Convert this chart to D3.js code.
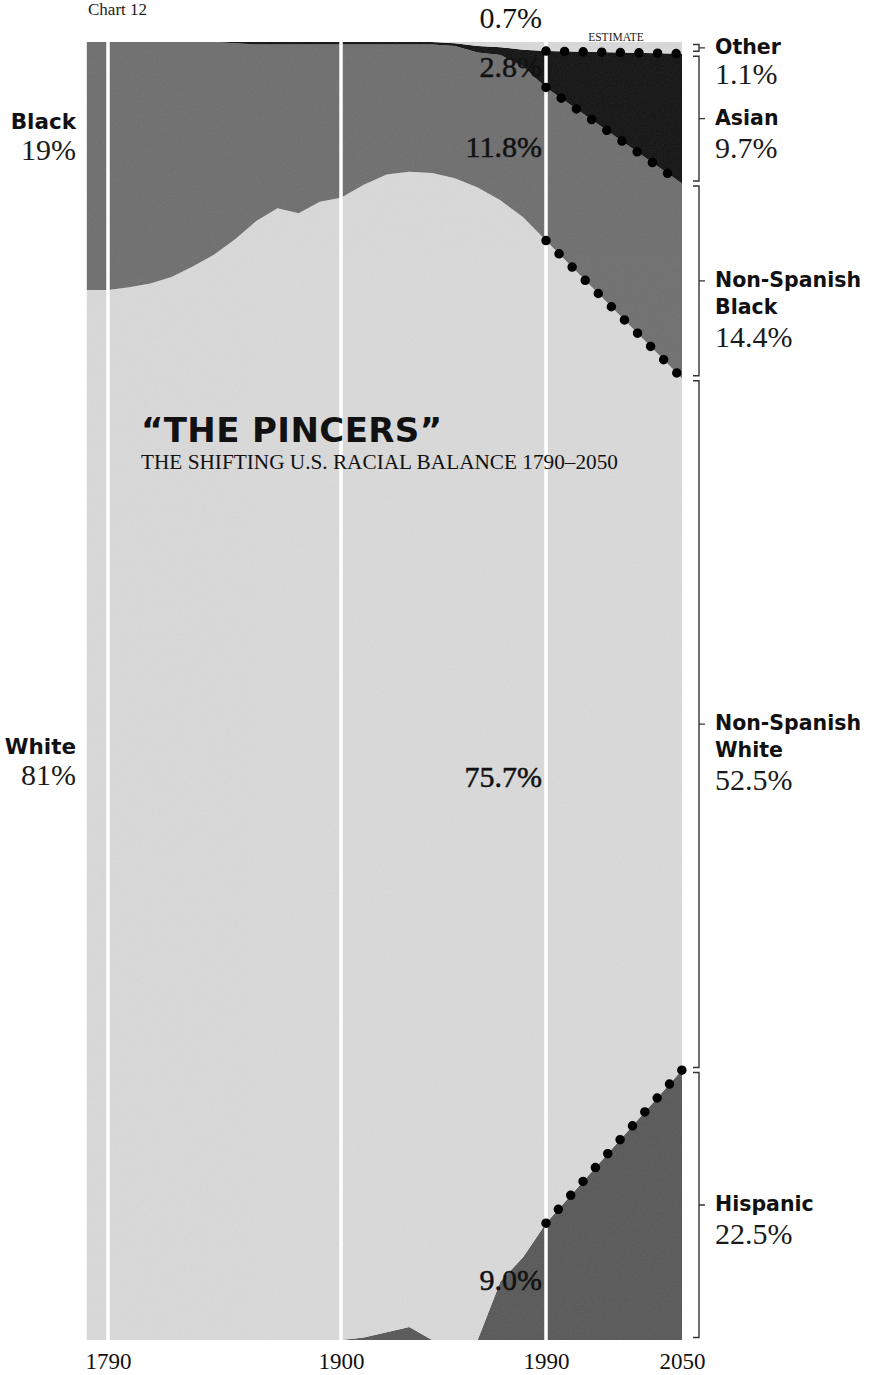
<!DOCTYPE html>
<html>
<head>
<meta charset="utf-8">
<script src="https://cdn.jsdelivr.net/npm/d3@7"></script>
<style>
  body { margin: 0; background: #fff; }
  svg { display: block; }
</style>
</head>
<body>
<div id="vis"></div>
<script>
// census years, then the 2050 projection (percent of population)
const years    = [1780, 1790, 1800, 1810, 1820, 1830, 1840, 1850, 1860, 1870, 1880, 1890, 1900, 1910, 1920, 1930, 1940, 1950, 1960, 1970, 1980, 1990, 2050]
const hispanic = [0, 0, 0, 0, 0, 0, 0, 0, 0, 0, 0, 0, 0, 0.2, 0.6, 1.0, 0, 0, 0, 4.5, 6.4, 9.0, 20.8]
const white    = [80.9, 80.9, 81.1, 81.4, 81.9, 82.7, 83.6, 84.8, 86.2, 87.2, 86.8, 87.7, 88.0, 88.8, 89.2, 89.0, 89.9, 89.5, 88.8, 83.3, 80.1, 75.7, 53.3]
const black    = [19.1, 19.1, 18.9, 18.6, 18.1, 17.3, 16.4, 15.1, 13.6, 12.6, 13.0, 12.1, 11.8, 10.8, 10.0, 9.8, 9.9, 10.2, 10.4, 11.2, 11.6, 11.8, 15.0]
const asian    = [0, 0, 0, 0, 0, 0, 0, 0.1, 0.2, 0.2, 0.2, 0.2, 0.2, 0.2, 0.2, 0.2, 0.2, 0.2, 0.5, 0.6, 1.3, 2.8, 10.0]
const other    = [0, 0, 0, 0, 0, 0, 0, 0, 0, 0, 0, 0, 0, 0, 0, 0, 0, 0.1, 0.3, 0.4, 0.6, 0.7, 0.9]

const tickYears = [1790, 1900, 1990, 2050]
const gridYears = [1790, 1900, 1990]
const estimateFrom = 1990

// labels
const leftLabels = [
    {name: ["Black"], pct: "19%", y: 129},
    {name: ["White"], pct: "81%", y: 754}
]
const rightLabels = {
    other: {name: ["Other"], pct: "1.1%"},
    asian: {name: ["Asian"], pct: "9.7%"},
    black: {name: ["Non-Spanish", "Black"], pct: "14.4%"},
    white: {name: ["Non-Spanish", "White"], pct: "52.5%"},
    hispanic: {name: ["Hispanic"], pct: "22.5%"}
}
const pct1990 = {other: "0.7%", asian: "2.8%", black: "11.8%", white: "75.7%", hispanic: "9.0%"}

const keys = ["hispanic", "white", "black", "asian", "other"]
const colors = {hispanic: "#575757", white: "#dadada", black: "#6e6e6e", asian: "#111", other: "#dadada"}

const table = years.map((yr, i) => ({
    year: yr, hispanic: hispanic[i], white: white[i], black: black[i], asian: asian[i], other: other[i]
}))

const W = 869, H = 1375
const plotTop = 42, plotBottom = 1340

const svg = d3.select("#vis").append("svg")
    .attr("width", W)
    .attr("height", H)

// the printed x axis is not quite linear, so use the tick positions as stops
const x = d3.scaleLinear()
    .domain([1790, 1900, 1990, 2050])
    .range([108, 341, 546, 682])

const y = d3.scaleLinear()
    .domain([0, 100])
    .range([plotBottom, plotTop])

const series = d3.stack().keys(keys)(table)

const area = d3.area()
    .x(d => x(d.data.year))
    .y0(d => y(d[0]))
    .y1(d => y(d[1]))

const defs = svg.append("defs")
const grain = defs.append("filter").attr("id", "grain")
    .attr("x", 0).attr("y", 0).attr("width", "100%").attr("height", "100%")
grain.append("feTurbulence")
    .attr("type", "fractalNoise")
    .attr("baseFrequency", 0.9)
    .attr("numOctaves", 2)
    .attr("seed", 4)
grain.append("feColorMatrix").attr("type", "saturate").attr("values", 0)

defs.append("clipPath").attr("id", "plotClip")
    .append("rect")
    .attr("x", x(years[0])).attr("y", plotTop)
    .attr("width", x(2050) - x(years[0])).attr("height", plotBottom - plotTop)

//stacked layers
svg.append("g")
    .selectAll("path")
    .data(series)
    .join("path")
    .attr("fill", d => colors[d.key])
    .attr("d", area)

// a bit of newsprint grain
svg.append("rect")
    .attr("clip-path", "url(#plotClip)")
    .attr("x", x(years[0])).attr("y", plotTop)
    .attr("width", x(2050) - x(years[0])).attr("height", plotBottom - plotTop)
    .attr("filter", "url(#grain)")
    .attr("opacity", 0.12)

//white year rules
svg.append("g")
    .selectAll("line")
    .data(gridYears)
    .join("line")
    .attr("x1", d => x(d)).attr("x2", d => x(d))
    .attr("y1", plotTop).attr("y2", plotBottom)
    .attr("stroke", "#fff")
    .attr("stroke-width", 3.5)

//dotted estimate boundaries
const proj = series.filter(s => s.key !== "other")
svg.append("g")
    .selectAll("path")
    .data(proj)
    .join("path")
    .attr("fill", "none")
    .attr("stroke", "#000")
    .attr("stroke-width", 9.5)
    .attr("stroke-linecap", "round")
    .attr("stroke-dasharray", "0 18.6")
    .attr("d", s => d3.line()
        .x(d => x(d.data.year))
        .y(d => y(d[1]))(s.filter(d => d.data.year >= estimateFrom)))

//brackets on the right, one per 2050 layer
const bx = 699
const last = series.map(s => ({key: s.key, y0: y(s[s.length - 1][0]), y1: y(s[s.length - 1][1])}))
const brackets = svg.append("g").attr("stroke", "#333").attr("stroke-width", 1.4).attr("fill", "none")
last.forEach(b => {
    const t = b.y1 + 2.5, btm = b.y0 - 2.5, mid = (b.y0 + b.y1) / 2
    brackets.append("path").attr("d", `M${bx - 6},${t}H${bx}V${btm}H${bx - 6}M${bx},${mid}H${bx + 6}`)

    const lab = rightLabels[b.key]
    const g = svg.append("g").attr("transform", `translate(715,${mid + 6})`)
    lab.name.forEach((line, i) => {
        g.append("text")
            .attr("y", i * 27)
            .attr("font-family", "DejaVu Sans")
            .attr("font-weight", "bold")
            .attr("font-size", 20.5)
            .attr("fill", "#111")
            .text(line)
    })
    g.append("text")
        .attr("y", (lab.name.length - 1) * 27 + (b.key === "other" ? 30 : 33))
        .attr("font-family", "Liberation Serif")
        .attr("font-size", 30)
        .attr("fill", "#1a1a1a")
        .text(lab.pct)
})

//left labels
leftLabels.forEach(l => {
    svg.append("text")
        .attr("x", 76).attr("y", l.y)
        .attr("text-anchor", "end")
        .attr("font-family", "DejaVu Sans")
        .attr("font-weight", "bold")
        .attr("font-size", 21.5)
        .attr("fill", "#111")
        .text(l.name[0])
    svg.append("text")
        .attr("x", 76).attr("y", l.y + 31)
        .attr("text-anchor", "end")
        .attr("font-family", "Liberation Serif")
        .attr("font-size", 30)
        .attr("fill", "#1a1a1a")
        .text(l.pct)
})

//1990 values, right aligned against the 1990 rule
const pctY = {other: 28, asian: 77, black: 157, white: 787, hispanic: 1290}
Object.keys(pct1990).forEach(k => {
    svg.append("text")
        .attr("x", x(1990) - 4).attr("y", pctY[k])
        .attr("text-anchor", "end")
        .attr("font-family", "Liberation Serif")
        .attr("font-size", 30)
        .attr("fill", "#111")
        .attr("stroke", k === "other" ? "none" : "#111")
        .attr("stroke-width", 0.5)
        .text(pct1990[k])
})

svg.append("text")
    .attr("x", (x(1990) + x(2050)) / 2 + 2).attr("y", 41)
    .attr("text-anchor", "middle")
    .attr("font-family", "Liberation Serif")
    .attr("font-size", 11.5)
    .attr("fill", "#222")
    .text("ESTIMATE")

svg.append("text")
    .attr("x", 88).attr("y", 15)
    .attr("font-family", "Liberation Serif")
    .attr("font-size", 17)
    .attr("fill", "#222")
    .text("Chart 12")

//title block
svg.append("text")
    .attr("x", 141).attr("y", 442)
    .attr("font-family", "DejaVu Sans")
    .attr("font-weight", "bold")
    .attr("font-size", 34)
    .attr("letter-spacing", 0.4)
    .attr("fill", "#111")
    .text("\u201CTHE PINCERS\u201D")

svg.append("text")
    .attr("x", 141).attr("y", 469)
    .attr("font-family", "Liberation Serif")
    .attr("font-size", 20)
    .attr("textLength", 477)
    .attr("lengthAdjust", "spacingAndGlyphs")
    .attr("fill", "#111")
    .text("THE SHIFTING U.S. RACIAL BALANCE 1790\u20132050")

//x axis
const xAxis = svg.append("g")
    .attr("transform", `translate(0,${plotBottom})`)
    .call(d3.axisBottom(x).tickValues(tickYears).tickSize(0).tickPadding(13).tickFormat(d3.format("d")))
xAxis.select(".domain").remove()
xAxis.selectAll("text")
    .attr("font-family", "Liberation Serif")
    .attr("font-size", 23)
    .attr("fill", "#111")
</script>
</body>
</html>
